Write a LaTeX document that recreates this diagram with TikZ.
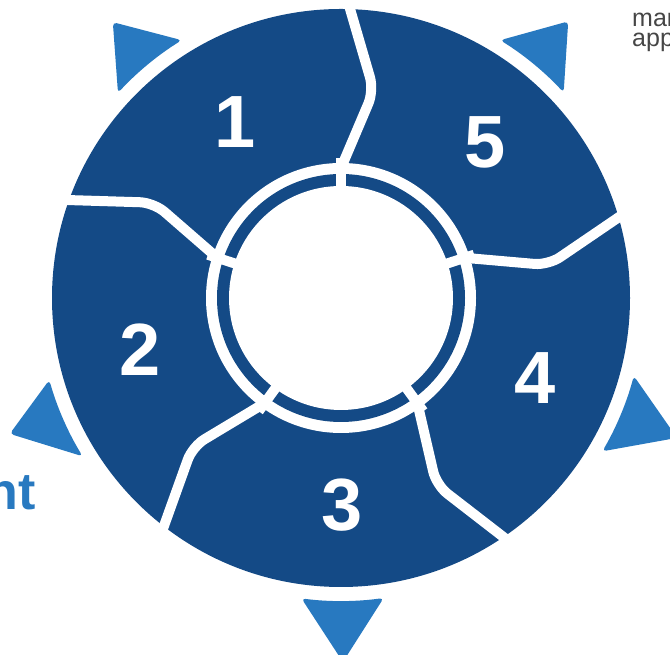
\documentclass[tikz,border=0pt]{standalone}
\usepackage{fontspec}
\setmainfont{Liberation Sans}
\definecolor{dblue}{RGB}{20,74,134}
\definecolor{lblue}{RGB}{40,121,192}
\definecolor{tgray}{RGB}{70,70,70}
\tikzset{
  divider/.style={white, line width=10pt, rounded corners=14pt},
  ringgap/.style={white, line width=10pt},
  pointer/.style={fill=lblue, rounded corners=4pt},
  numlabel/.style={text=white, inner sep=0pt, font=\bfseries\fontsize{74}{74}\selectfont}
}
\begin{document}
\begin{tikzpicture}[x=1pt,y=1pt]
\useasboundingbox (0,0) rectangle (670,655);
\begin{scope}[shift={(341,357)}]
  \fill[dblue] (0,0) circle (289);
  \fill[white] (0,0) circle (135);
  \fill[dblue] (0,0) circle (124);
  \fill[white] (0,0) circle (112);
  \foreach \t in {90,18,306,234,162} {
    \draw[ringgap] (\t:105) -- (\t:140);
    \draw[divider] (\t:130) -- ({\t-9}:210) -- ({\t-1}:302);
  }
  \foreach \a/\b/\m/\r in {121.7/137.4/129.6/358, 42.7/58.3/50.6/358, -30.4/-14.9/-22.6/364, 262.5/278.1/270.3/364, 195.7/211.5/202.3/358} {
    \path[pointer] (\a:303) arc[start angle=\a, end angle=\b, radius=303] -- (\m:\r) -- cycle;
  }
\end{scope}
\node[numlabel] (n1) at (235,533) {1};
\node[numlabel] (n5) at (485,513) {5};
\node[numlabel] (n4) at (535,277) {4};
\node[numlabel] (n3) at (342,150) {3};
\node[numlabel] (n2) at (140,305) {2};
\node[anchor=base east, text=lblue, inner sep=0pt, font=\bfseries\fontsize{52}{52}\selectfont] (nt) at (36,145) {nt};
\node[anchor=base west, text=tgray, inner sep=0pt, align=left, font=\fontsize{25}{20}\selectfont] (note) at (632,608) {mar\\app};
\end{tikzpicture}
\end{document}
